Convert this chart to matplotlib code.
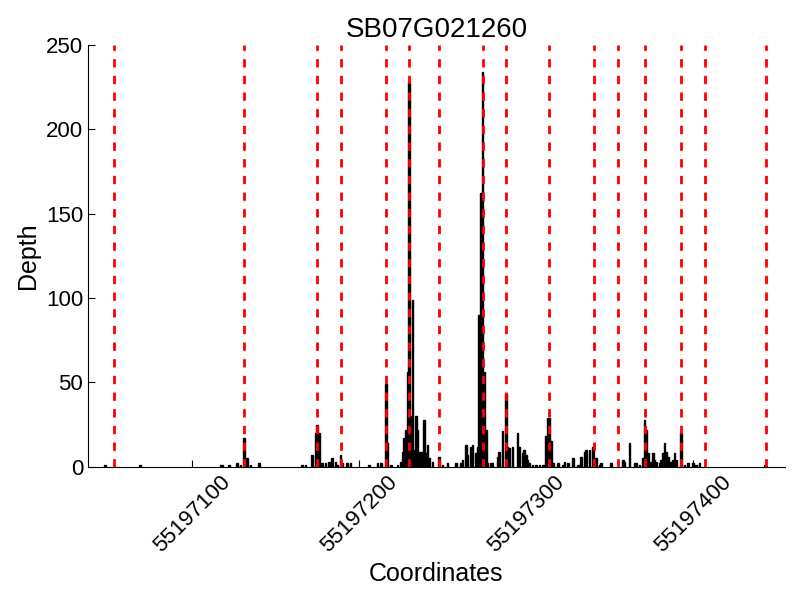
import matplotlib
matplotlib.use('Agg')
import matplotlib.pyplot as plt

plt.rcParams['font.family'] = ['Liberation Sans', 'DejaVu Sans']

gene = 'SB07G021260'

coords = [55197048, 55197069, 55197117, 55197118, 55197122, 55197127, 55197129, 55197131,
          55197133, 55197135, 55197140, 55197166, 55197168, 55197172, 55197174, 55197175,
          55197176, 55197178, 55197180, 55197182, 55197184, 55197186, 55197187, 55197189,
          55197190, 55197193, 55197195, 55197206, 55197211, 55197213, 55197216, 55197217,
          55197219, 55197223, 55197225, 55197226, 55197227, 55197228, 55197229, 55197230,
          55197231, 55197232, 55197233, 55197234, 55197235, 55197236, 55197237, 55197238,
          55197239, 55197240, 55197241, 55197242, 55197244, 55197248, 55197250, 55197253,
          55197258, 55197261, 55197262, 55197264, 55197265, 55197267, 55197268, 55197270,
          55197271, 55197272, 55197273, 55197274, 55197275, 55197276, 55197277, 55197279,
          55197280, 55197283, 55197284, 55197286, 55197288, 55197289, 55197290, 55197292,
          55197295, 55197296, 55197298, 55197299, 55197300, 55197301, 55197302, 55197304,
          55197306, 55197308, 55197310, 55197312, 55197313, 55197314, 55197315, 55197316,
          55197319, 55197322, 55197323, 55197325, 55197328, 55197331, 55197333, 55197335,
          55197336, 55197338, 55197340, 55197342, 55197344, 55197345, 55197351, 55197358,
          55197359, 55197362, 55197365, 55197366, 55197368, 55197370, 55197371, 55197372,
          55197373, 55197375, 55197376, 55197377, 55197378, 55197380, 55197381, 55197382,
          55197383, 55197384, 55197385, 55197387, 55197388, 55197389, 55197390, 55197393,
          55197395, 55197397, 55197400, 55197402, 55197404, 55197443]
depth = [1, 1, 1, 1, 1, 2, 1, 17,
         5, 1, 2, 1, 1, 7, 20, 25,
         20, 2, 2, 3, 5, 3, 1, 7,
         2, 2, 2, 1, 2, 2, 49, 14,
         1, 1, 3, 9, 17, 22, 56, 228,
         30, 99, 10, 30, 22, 9, 9, 9,
         28, 8, 13, 5, 3, 6, 1, 2,
         2, 2, 4, 13, 7, 12, 13, 8,
         12, 90, 162, 234, 56, 22, 2, 2,
         2, 6, 9, 21, 43, 12, 11, 12,
         20, 12, 8, 10, 7, 4, 2, 1,
         1, 1, 1, 18, 29, 29, 15, 2,
         2, 1, 3, 2, 5, 1, 6, 9,
         10, 10, 12, 5, 1, 2, 2, 4,
         3, 14, 2, 2, 1, 5, 28, 22,
         8, 3, 8, 4, 3, 2, 4, 8,
         14, 9, 6, 3, 4, 8, 4, 20,
         1, 2, 2, 1, 2, 1]

# exon boundaries
bounds = [55197053, 55197131, 55197175, 55197189, 55197216, 55197230, 55197248, 55197274,
          55197288, 55197314, 55197341, 55197355, 55197371, 55197393, 55197407, 55197444]

fig = plt.figure(figsize=(8, 6), dpi=100)
ax = fig.add_subplot(111)
fig.subplots_adjust(left=0.11, right=0.981, top=0.925, bottom=0.222)

ax.bar(coords, depth, width=1, align='center', color='k', edgecolor='k', linewidth=1)
for b in bounds:
    ax.axvline(b, color='red', linestyle='--', linewidth=2, dashes=(3, 3), zorder=5)

ax.set_xlim(55197037.7, 55197455)
ax.set_ylim(0, 250)
ax.set_xticks([55197100, 55197200, 55197300, 55197400])
ax.ticklabel_format(axis='x', style='plain', useOffset=False)
plt.setp(ax.get_xticklabels(), rotation=45)
ax.tick_params(direction='in', length=5, labelsize=16, top=False, right=False)
ax.spines['top'].set_visible(False)
ax.spines['right'].set_visible(False)

ax.set_title(gene, fontsize=20)
ax.set_xlabel('Coordinates', fontsize=18)
ax.set_ylabel('Depth', fontsize=18)

plt.savefig('out.png')
